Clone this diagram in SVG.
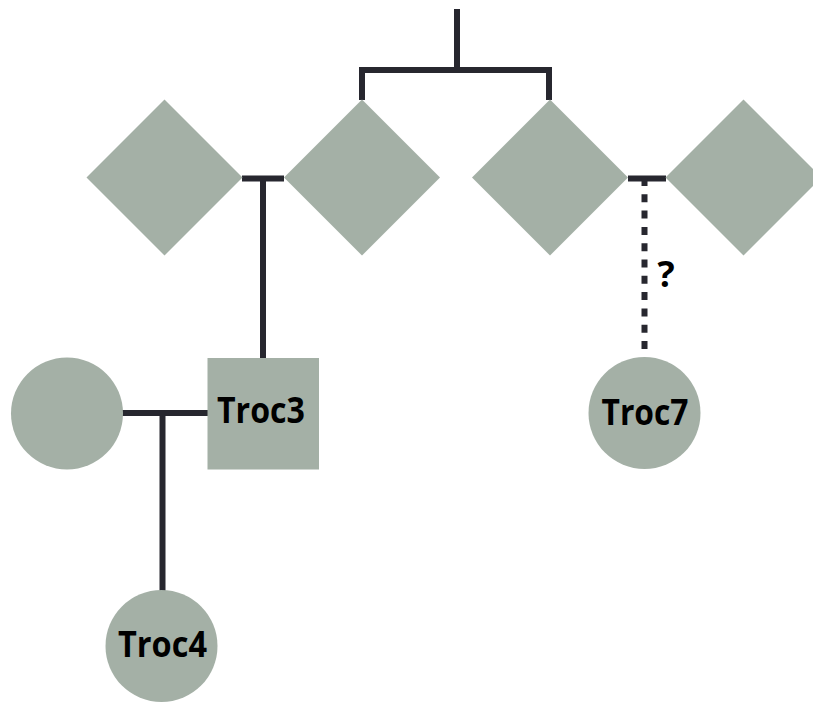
<svg xmlns="http://www.w3.org/2000/svg" width="813" height="702" viewBox="0 0 813 702">
  <style>
    .node { fill: #a4b0a6; }
    .line { stroke: #27272f; stroke-width: 6; fill: none; }
    .dash { stroke-dasharray: 8 8.3; }
    .label { font-family: "Open Sans", "Liberation Sans", sans-serif; font-weight: 700; font-size: 35px; fill: #000; text-anchor: middle; }
    .mark { font-family: "Open Sans", "Liberation Sans", sans-serif; font-weight: 700; font-size: 36px; fill: #000; }
  </style>
  <rect width="813" height="702" fill="#fff"/>

  <g id="connectors">
    <!-- parents to siblings -->
    <path class="line" d="M457 9 V70 M359 70 H552 M362 70 V100 M549 70 V100"/>
    <!-- left couple and child -->
    <path class="line" d="M242 178.5 H284 M263 178.5 V358"/>
    <!-- right couple and uncertain child -->
    <path class="line" d="M628 178.5 H666"/>
    <path class="line dash" d="M644.5 178 V349"/>
    <!-- lower couple and child -->
    <path class="line" d="M122 413 H208 M162.5 413 V591"/>
  </g>

  <g id="diamond1"><polygon class="node" points="164.5,99.5 242.5,177.5 164.5,255.5 86.5,177.5"/></g>
  <g id="diamond2"><polygon class="node" points="362,99.5 440,177.5 362,255.5 284,177.5"/></g>
  <g id="diamond3"><polygon class="node" points="550,99.5 628,177.5 550,255.5 472,177.5"/></g>
  <g id="diamond4"><polygon class="node" points="743.5,99.5 821.5,177.5 743.5,255.5 665.5,177.5"/></g>

  <g id="spouse"><circle class="node" cx="67" cy="413.5" r="56"/></g>

  <g id="troc3">
    <rect class="node" x="207.5" y="358" width="111.5" height="111.5"/>
    <text class="label" x="261" y="423" textLength="88" lengthAdjust="spacingAndGlyphs">Troc3</text>
  </g>

  <g id="troc7">
    <circle class="node" cx="644.5" cy="413" r="56"/>
    <text class="label" x="645" y="425" textLength="87" lengthAdjust="spacingAndGlyphs">Troc7</text>
  </g>
  <text class="mark" x="657.5" y="287">?</text>

  <g id="troc4">
    <circle class="node" cx="161.5" cy="646" r="56"/>
    <text class="label" x="162.5" y="657" textLength="89" lengthAdjust="spacingAndGlyphs">Troc4</text>
  </g>
</svg>
